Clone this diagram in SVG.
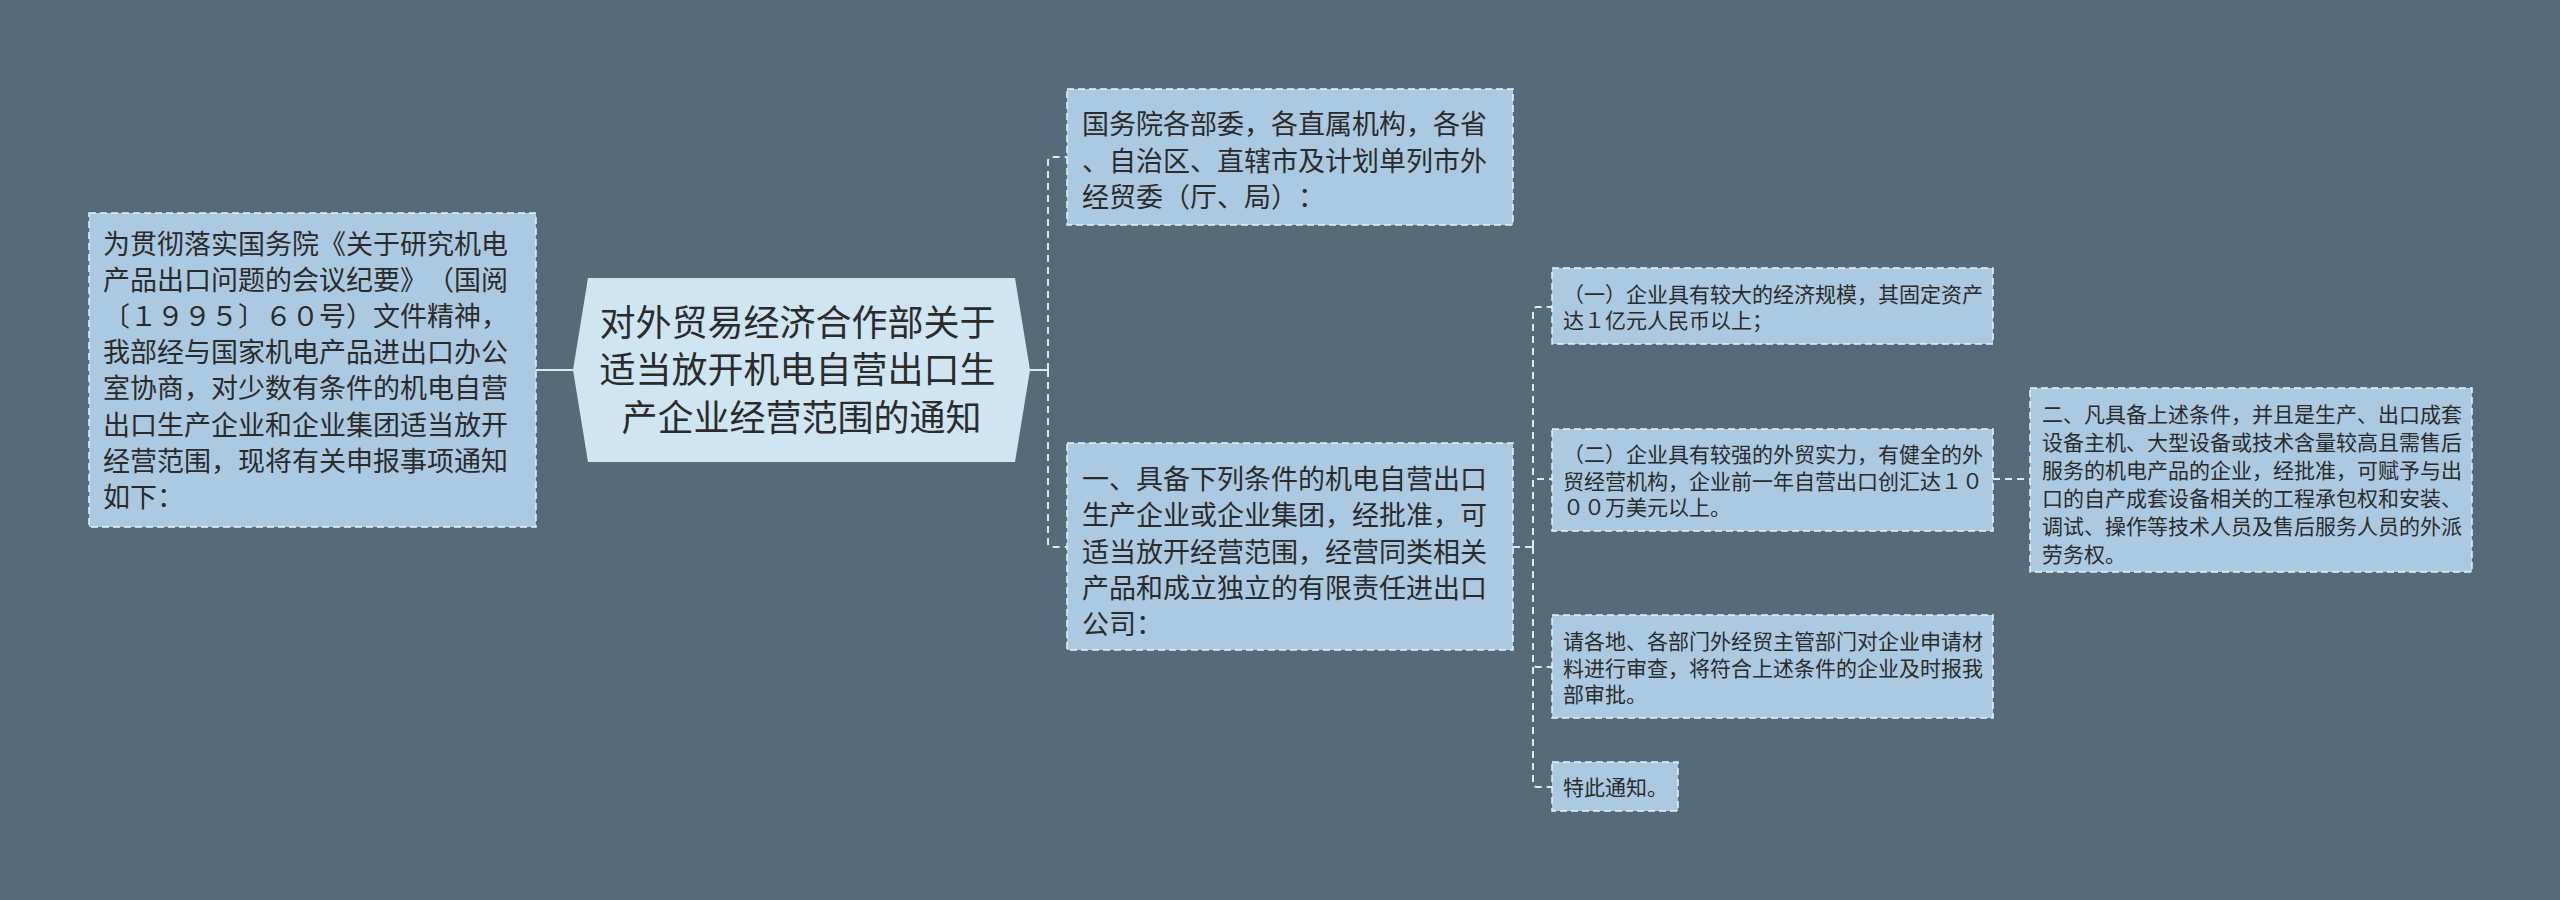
<svg xmlns="http://www.w3.org/2000/svg" width="2560" height="900" viewBox="0 0 2560 900">
<defs>
<style>
.bg{fill:#556b7a}
.node{fill:#abcae1;stroke:#e6f3fa;stroke-width:1.5;stroke-dasharray:7 4}
.center{fill:#cfe6f2}
.t{font-family:"Noto Sans CJK SC","Noto Sans",sans-serif;fill:#2b2b2b;text-spacing-trim:space-all;font-feature-settings:"halt" 0,"chws" 0}
.t27{font-size:27px}
.t21{font-size:21px}
.t36{font-size:36px}
.link{fill:none;stroke:#dce8ef;stroke-width:2;stroke-dasharray:7 5}
.solid{fill:none;stroke:#dce8ef;stroke-width:2}
</style>
</defs>
<rect class="bg" x="0" y="0" width="2560" height="900"/>
<g id="connectors">
<path class="solid" d="M536,370 H573"/>
<path class="solid" d="M1030,370 H1048"/>
<path class="link" d="M1048,370 V161 Q1048,157 1052,157 H1067"/>
<path class="link" d="M1048,370 V543 Q1048,547 1052,547 H1067"/>
<path class="link" d="M1513,547 H1533"/>
<path class="link" d="M1533,547 V311 Q1533,307 1537,307 H1552"/>
<path class="link" d="M1533,547 V479 H1552"/>
<path class="link" d="M1533,547 V663 Q1533,667 1537,667 H1552"/>
<path class="link" d="M1533,547 V783 Q1533,787 1537,787 H1552"/>
<path class="link" d="M1993,479 H2030"/>
</g>
<g id="node-left">
<rect class="node" x="89" y="213" width="447" height="314"/>
<text class="t t27" x="103">
<tspan x="103" y="253.5">为贯彻落实国务院《关于研究机电</tspan>
<tspan x="103" y="289.7">产品出口问题的会议纪要》（国阅</tspan>
<tspan x="103" y="325.9">〔１９９５〕６０号）文件精神，</tspan>
<tspan x="103" y="362.1">我部经与国家机电产品进出口办公</tspan>
<tspan x="103" y="398.3">室协商，对少数有条件的机电自营</tspan>
<tspan x="103" y="434.5">出口生产企业和企业集团适当放开</tspan>
<tspan x="103" y="470.7">经营范围，现将有关申报事项通知</tspan>
<tspan x="103" y="506.9">如下：</tspan>
</text>
</g>
<g id="node-center">
<polygon class="center" points="573,370 588,278 1015,278 1030,370 1015,462 588,462"/>
<text class="t t36" text-anchor="middle">
<tspan x="801.5" y="335.5">对外贸易经济合作部关于</tspan>
<tspan x="801.5" y="383">适当放开机电自营出口生</tspan>
<tspan x="801.5" y="430.5">产企业经营范围的通知</tspan>
</text>
</g>
<g id="node-top">
<rect class="node" x="1067" y="89" width="446" height="136"/>
<text class="t t27">
<tspan x="1082" y="134">国务院各部委，各直属机构，各省</tspan>
<tspan x="1082" y="170.7">、自治区、直辖市及计划单列市外</tspan>
<tspan x="1082" y="207.4">经贸委（厅、局）：</tspan>
</text>
</g>
<g id="node-mid">
<rect class="node" x="1067" y="443" width="446" height="207"/>
<text class="t t27">
<tspan x="1082" y="489">一、具备下列条件的机电自营出口</tspan>
<tspan x="1082" y="525.25">生产企业或企业集团，经批准，可</tspan>
<tspan x="1082" y="561.5">适当放开经营范围，经营同类相关</tspan>
<tspan x="1082" y="597.75">产品和成立独立的有限责任进出口</tspan>
<tspan x="1082" y="634">公司：</tspan>
</text>
</g>
<g id="node-c1">
<rect class="node" x="1552" y="268" width="441" height="76"/>
<text class="t t21">
<tspan x="1563" y="301.5">（一）企业具有较大的经济规模，其固定资产</tspan>
<tspan x="1563" y="328.2">达１亿元人民币以上；</tspan>
</text>
</g>
<g id="node-c2">
<rect class="node" x="1552" y="429" width="441" height="102"/>
<text class="t t21">
<tspan x="1563" y="461.8">（二）企业具有较强的外贸实力，有健全的外</tspan>
<tspan x="1563" y="488.5">贸经营机构，企业前一年自营出口创汇达１０</tspan>
<tspan x="1563" y="515.2">００万美元以上。</tspan>
</text>
</g>
<g id="node-c3">
<rect class="node" x="1552" y="615" width="441" height="103"/>
<text class="t t21">
<tspan x="1563" y="649">请各地、各部门外经贸主管部门对企业申请材</tspan>
<tspan x="1563" y="675.7">料进行审查，将符合上述条件的企业及时报我</tspan>
<tspan x="1563" y="702.4">部审批。</tspan>
</text>
</g>
<g id="node-c4">
<rect class="node" x="1552" y="762" width="126" height="49"/>
<text class="t t21">
<tspan x="1563" y="795">特此通知。</tspan>
</text>
</g>
<g id="node-right">
<rect class="node" x="2030" y="388" width="442" height="184"/>
<text class="t t21">
<tspan x="2042" y="422">二、凡具备上述条件，并且是生产、出口成套</tspan>
<tspan x="2042" y="450">设备主机、大型设备或技术含量较高且需售后</tspan>
<tspan x="2042" y="478">服务的机电产品的企业，经批准，可赋予与出</tspan>
<tspan x="2042" y="506">口的自产成套设备相关的工程承包权和安装、</tspan>
<tspan x="2042" y="534">调试、操作等技术人员及售后服务人员的外派</tspan>
<tspan x="2042" y="562">劳务权。</tspan>
</text>
</g>
</svg>
